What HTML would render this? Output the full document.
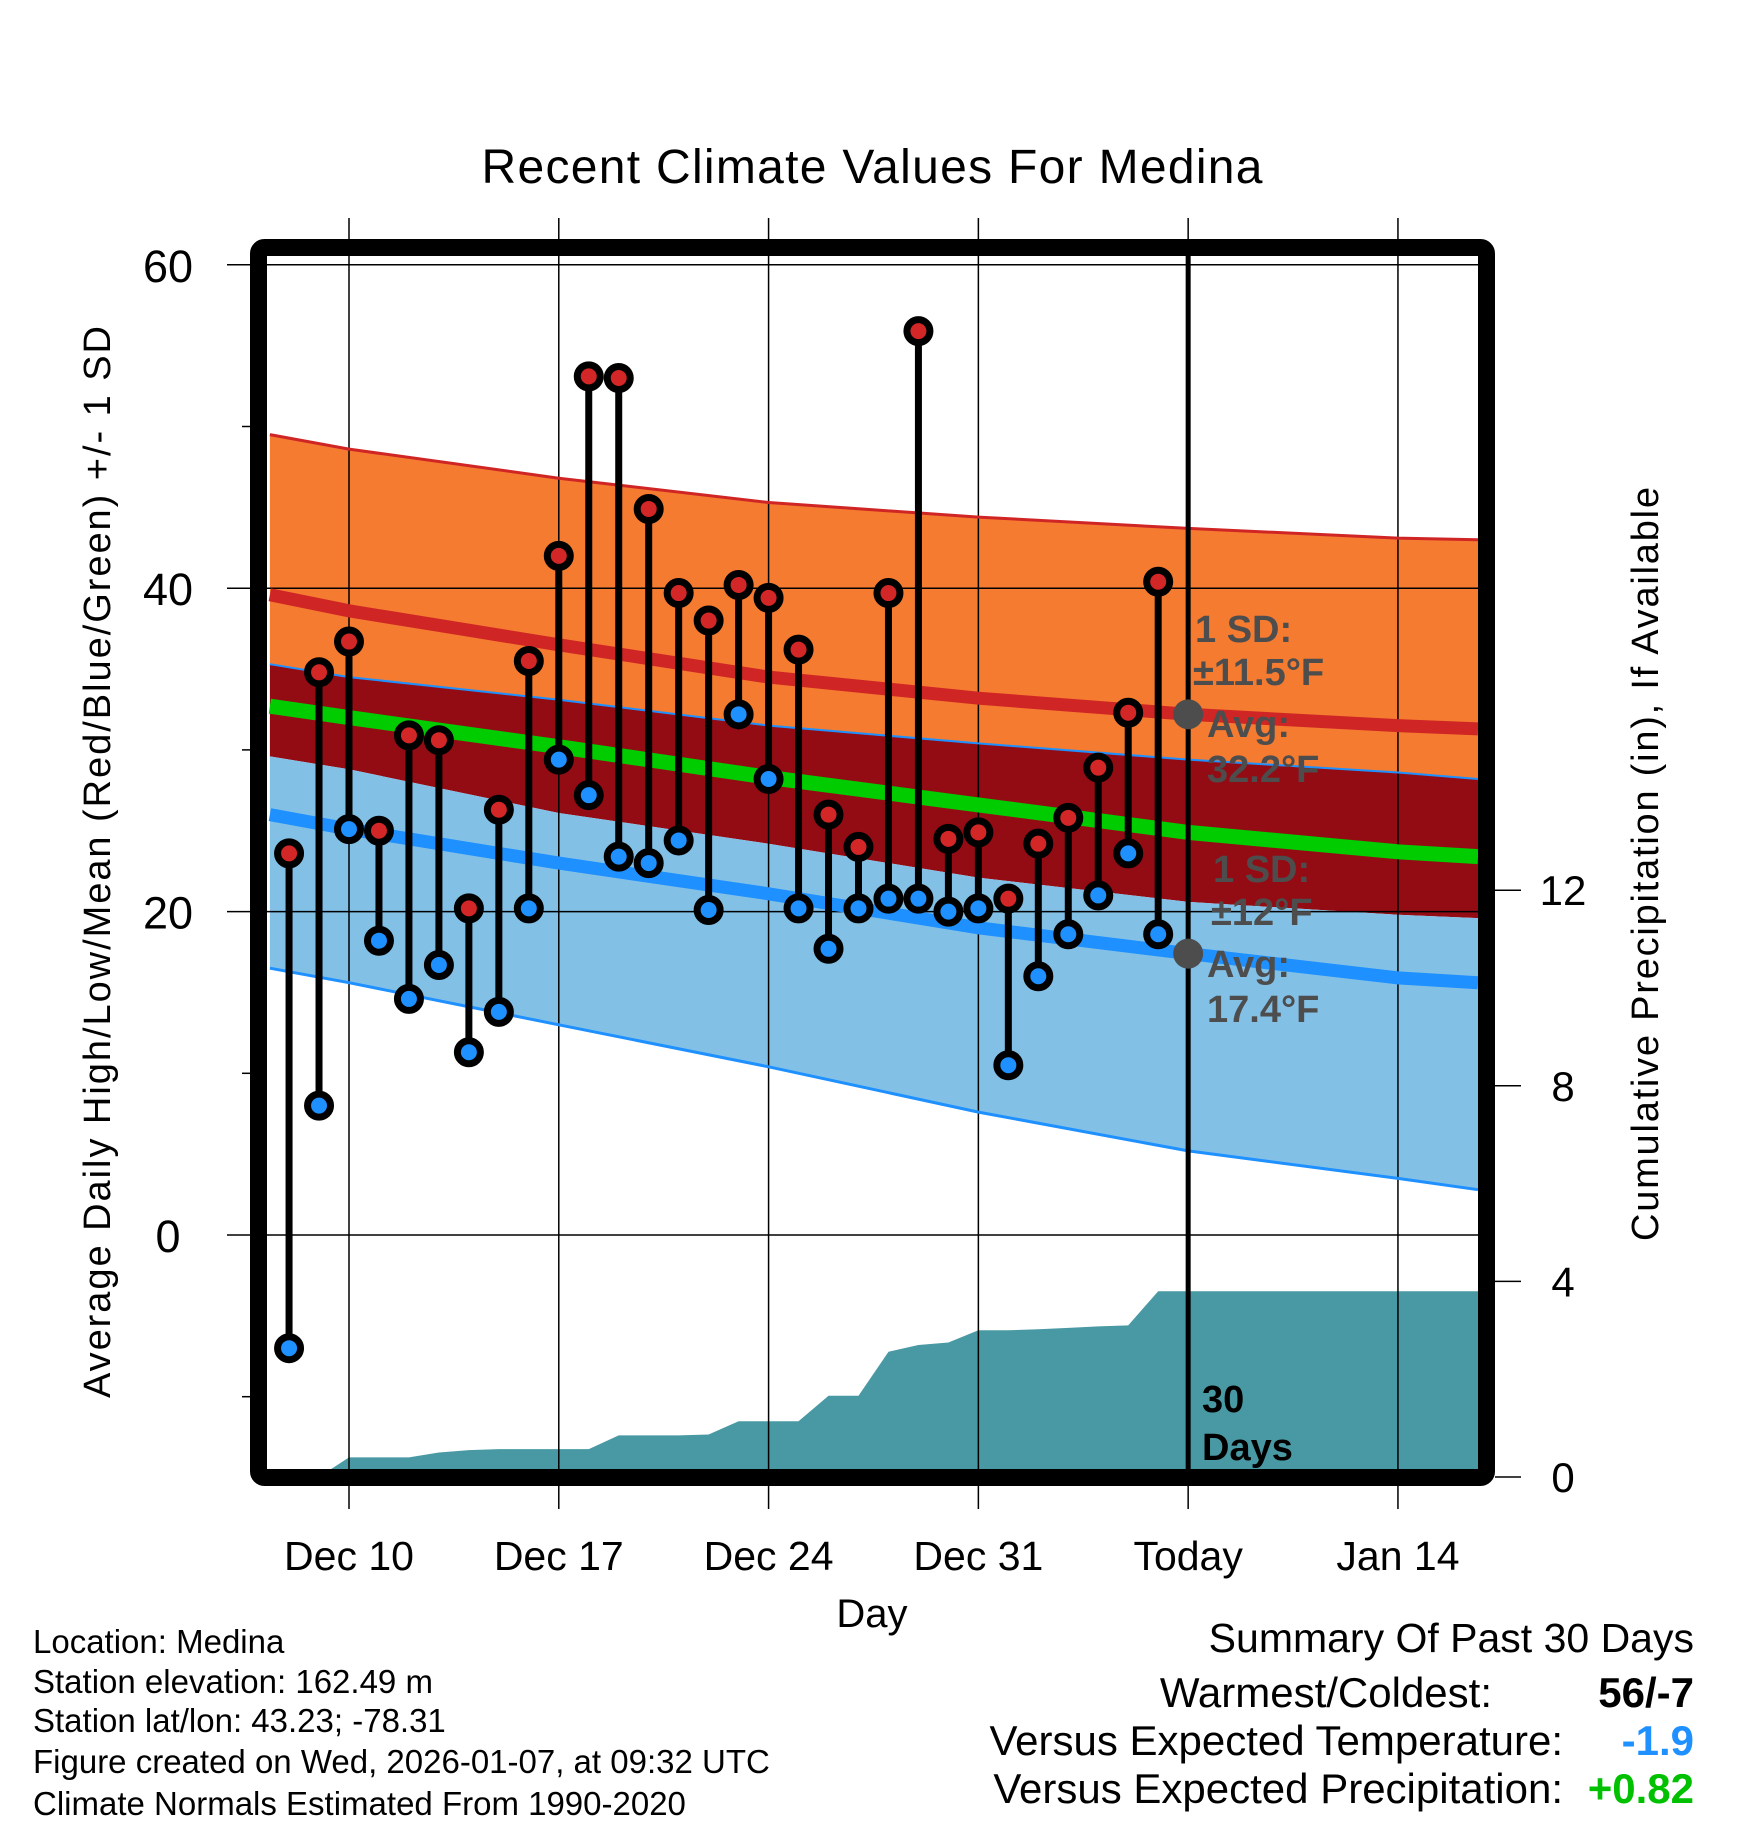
<!DOCTYPE html>
<html><head><meta charset="utf-8"><style>
html,body{margin:0;padding:0;background:#fff;}
svg{display:block;font-family:"Liberation Sans",Arial,sans-serif;}
</style></head><body>
<svg id="chart" width="1748" height="1828" viewBox="0 0 1748 1828" xmlns="http://www.w3.org/2000/svg">
<text x="872" y="183" text-anchor="middle" font-size="48" textLength="781">Recent Climate Values For Medina</text>
<g id="bands"></g>
<g id="precip"></g>
<g id="grid"></g>
<g id="lines"></g>
<g id="marks"></g>
<g id="annot" fill="#4d4d4d" font-weight="bold" font-size="38">
<text x="1195" y="642">1 SD:</text>
<text x="1193" y="685">±11.5°F</text>
<text x="1207" y="737">Avg:</text>
<text x="1207" y="782">32.2°F</text>
<text x="1213" y="882">1 SD:</text>
<text x="1211" y="925">±12°F</text>
<text x="1207" y="977">Avg:</text>
<text x="1207" y="1022">17.4°F</text>
</g>
<text x="1202" y="1412" font-size="38" font-weight="bold">30</text>
<text x="1202" y="1460" font-size="38" font-weight="bold">Days</text>
<rect x="258.5" y="247.5" width="1228" height="1230" rx="6" fill="none" stroke="#000" stroke-width="17"/>
<g id="axes"></g>
<text transform="translate(110,862) rotate(-90)" text-anchor="middle" font-size="38" textLength="1072">Average Daily High/Low/Mean (Red/Blue/Green) +/- 1 SD</text>
<text transform="translate(1658,864) rotate(-90)" text-anchor="middle" font-size="38" textLength="754">Cumulative Precipitation (in), If Available</text>
<text x="872" y="1627" text-anchor="middle" font-size="40">Day</text>
<g font-size="33">
<text x="33" y="1653">Location: Medina</text>
<text x="33" y="1693">Station elevation: 162.49 m</text>
<text x="33" y="1732">Station lat/lon: 43.23; -78.31</text>
<text x="33" y="1773">Figure created on Wed, 2026-01-07, at 09:32 UTC</text>
<text x="33" y="1815">Climate Normals Estimated From 1990-2020</text>
</g>
<g font-size="42">
<text x="1694" y="1652" text-anchor="end" font-size="41">Summary Of Past 30 Days</text>
<text x="1492" y="1707" text-anchor="end">Warmest/Coldest:</text>
<text x="1694" y="1707" text-anchor="end" font-weight="bold">56/-7</text>
<text x="1563" y="1755" text-anchor="end">Versus Expected Temperature:</text>
<text x="1694" y="1755" text-anchor="end" font-weight="bold" fill="#1e90ff">-1.9</text>
<text x="1563" y="1803" text-anchor="end">Versus Expected Precipitation:</text>
<text x="1694" y="1803" text-anchor="end" font-weight="bold" fill="#00c000">+0.82</text>
</g>
</svg>
<script>
// day index 0 = Dec 10
const days = [-2,-1,0,1,2,3,4,5,6,7,8,9,10,11,12,13,14,15,16,17,18,19,20,21,22,23,24,25,26,27];
const highs = [23.6,34.8,36.7,25.0,30.9,30.6,20.2,26.3,35.5,42.0,53.1,53.0,44.9,39.7,38.0,40.2,39.4,36.2,26.0,24.0,39.7,55.9,24.5,24.9,20.8,24.2,25.8,28.9,32.3,40.4];
const lows = [-7.0,8.0,25.1,18.2,14.6,16.7,11.3,13.8,20.2,29.4,27.2,23.4,23.0,24.4,20.1,32.2,28.2,20.2,17.7,20.2,20.8,20.8,20.0,20.2,10.5,16.0,18.6,21.0,23.6,18.6];
const normDays = [-2.64,0,7,14,21,28,35,37.67];
const normHighPlus = [49.5,48.6,46.8,45.3,44.4,43.7,43.1,43.0];
const normHigh = [39.6,38.6,36.5,34.5,33.2,32.2,31.5,31.3];
const normLowPlus = [35.3,34.5,33.1,31.5,30.4,29.4,28.6,28.2];
const normMean = [32.7,32.0,30.2,28.3,26.6,24.9,23.7,23.4];
const normHighMinus = [29.6,28.8,26.1,24.2,22.1,20.6,19.8,19.6];
const normLow = [26.0,25.1,23.0,21.1,19.0,17.4,15.9,15.6];
const normLowMinus = [16.5,15.6,13.0,10.4,7.6,5.2,3.5,2.8];
const precipDays = [-2,-1,0,1,2,3,4,5,6,7,8,9,10,11,12,13,14,15,16,17,18,19,20,21,22,23,24,25,26,27,28,37.67];
const precipVals = [0,0,0.4,0.4,0.4,0.5,0.55,0.57,0.57,0.57,0.57,0.85,0.85,0.85,0.87,1.14,1.14,1.14,1.66,1.66,2.56,2.7,2.75,3.0,3.0,3.02,3.05,3.08,3.1,3.8,3.8,3.8];
const xTickDays = [0,7,14,21,28,35];
const xTickLabels = ["Dec 10","Dec 17","Dec 24","Dec 31","Today","Jan 14"];
const yTicks = [60,40,20,0];
const yMinor = [50,30,10,-10];
const pTicks = [0,4,8,12];

const NS = "http://www.w3.org/2000/svg";
const X = d => 349 + d * 29.97;
const Y = v => 1235 - v * 16.17;
const P = p => 1477 - p * 48.9;
const L = 270, R = 1478, T = 256, B = 1469;
function mk(tag, attrs, parent) {
  const e = document.createElementNS(NS, tag);
  for (const k in attrs) e.setAttribute(k, attrs[k]);
  parent.appendChild(e);
  return e;
}
const pts = (ds, vs, f) => ds.map((d, i) => X(d).toFixed(1) + "," + f(vs[i]).toFixed(1));
function band(top, bot, fill, name) {
  const a = pts(normDays, top, Y), b = pts(normDays, bot, Y).reverse();
  const e = mk("polygon", {points: a.concat(b).join(" "), fill: fill}, document.getElementById("bands"));
  
  
}
band(normHighPlus, normLowPlus, "#f47b30", "high-sd-band");
band(normLowPlus, normHighMinus, "#930c14", "overlap-band");
band(normHighMinus, normLowMinus, "#82c0e6", "low-sd-band");

// precip
const pg = document.getElementById("precip");
const pp = pts(precipDays, precipVals, P);
pp.push(X(37.67).toFixed(1) + "," + P(0), X(-2).toFixed(1) + "," + P(0));
const pa = mk("polygon", {points: pp.join(" "), fill: "#4899a3"}, pg);



// grid
const gg = document.getElementById("grid");
xTickDays.forEach(d => {
  const e = mk("line", {x1: X(d), x2: X(d), y1: 218, y2: 1509, stroke: "#000", "stroke-width": 1.5}, gg);
  
  
});
yTicks.forEach(v => {
  const e = mk("line", {x1: 227, x2: R, y1: Y(v), y2: Y(v), stroke: "#000", "stroke-width": 1.5}, gg);
  
  
});

// normal lines
const lg = document.getElementById("lines");
function line(vs, color, w, name) {
  const e = mk("polyline", {points: pts(normDays, vs, Y).join(" "), fill: "none", stroke: color, "stroke-width": w}, lg);
  
  
}
line(normHighPlus, "#d02525", 3, "high-plus-sd-line");
line(normLowPlus, "#1e90ff", 2, "low-plus-sd-line");
line(normLowMinus, "#1e90ff", 3, "low-minus-sd-line");
line(normHigh, "#d02525", 13, "normal-high-line");
line(normMean, "#00cc00", 15, "normal-mean-line");
line(normLow, "#1e90ff", 13, "normal-low-line");

// today line
const tl = mk("line", {x1: X(28), x2: X(28), y1: T, y2: B, stroke: "#000", "stroke-width": 5}, lg);



// marks
const mg = document.getElementById("marks");
days.forEach((d, i) => {
  const s = mk("line", {x1: X(d), x2: X(d), y1: Y(highs[i]), y2: Y(lows[i]), stroke: "#000", "stroke-width": 7}, mg);
  
  
});
days.forEach((d, i) => {
  const h = mk("circle", {cx: X(d), cy: Y(highs[i]), r: 11.5, fill: "#d32626", stroke: "#000", "stroke-width": 7}, mg);
  
  
  const l = mk("circle", {cx: X(d), cy: Y(lows[i]), r: 11.5, fill: "#1e90ff", stroke: "#000", "stroke-width": 7}, mg);
  
  
});
[normHigh[5], normLow[5]].forEach(v => {
  const c = mk("circle", {cx: X(28), cy: Y(v), r: 15, fill: "#4d4d4d"}, mg);
  
  
});

// axes
const ag = document.getElementById("axes");
xTickDays.forEach((d, i) => {
  const t = mk("text", {x: X(d), y: 1570, "text-anchor": "middle", "font-size": 41}, ag);
  t.textContent = xTickLabels[i];
  
  
});
yTicks.forEach(v => {
  const t = mk("text", {x: 168, y: Y(v) + 17, "text-anchor": "middle", "font-size": 45}, ag);
  t.textContent = v;
  
  
});
yMinor.forEach(v => {
  const e = mk("line", {x1: 242, x2: 252, y1: Y(v), y2: Y(v), stroke: "#000", "stroke-width": 1.5}, ag);
  
  
});
pTicks.forEach(p => {
  const e = mk("line", {x1: 1495, x2: 1521, y1: P(p), y2: P(p), stroke: "#000", "stroke-width": 1.5}, ag);
  
  
  const t = mk("text", {x: 1563, y: P(p) + 15, "text-anchor": "middle", "font-size": 42}, ag);
  t.textContent = p;
  
  
});
</script>
</body></html>
